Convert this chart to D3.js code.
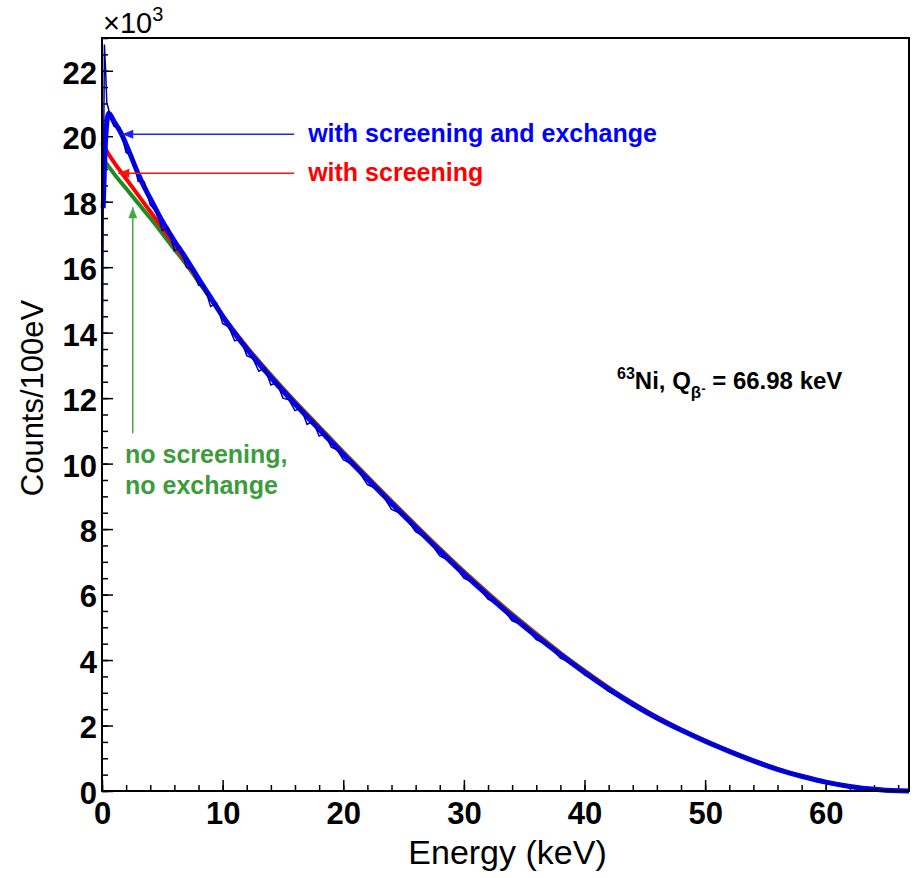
<!DOCTYPE html>
<html>
<head>
<meta charset="utf-8">
<script src="https://cdn.jsdelivr.net/npm/d3@7"></script>
<style>
body { margin: 0; background: #fff; }
svg { font-family: "Liberation Sans", Arial, sans-serif; }
text { white-space: pre; }
</style>
</head>
<body>
<div id="chart-area"></div>
<script>
// energies in keV, counts in units of 10^3 per 100 eV

// no screening, no exchange
var greenE = [0.3, 1, 2, 3, 4, 5, 6, 7, 8, 9, 10, 12, 14, 16, 18, 20, 22, 24, 26, 28, 30, 32, 34, 36, 38, 40, 42, 44, 46, 48, 50, 52, 54, 56, 58, 60, 62, 64, 66, 66.9];
var greenV = [19.2, 18.85, 18.4, 17.95, 17.5, 17.03, 16.55, 16.07, 15.56, 15.04, 14.52, 13.57, 12.71, 11.9, 11.13, 10.36, 9.61, 8.86, 8.13, 7.41, 6.71, 6.05, 5.41, 4.81, 4.22, 3.68, 3.16, 2.69, 2.26, 1.88, 1.54, 1.22, 0.93, 0.67, 0.45, 0.27, 0.14, 0.05, 0.006, 0];

// with screening
var redE = [0, 0.5, 1, 2, 3, 4, 5, 6, 7, 8, 9, 10, 12, 14, 16, 18, 20, 22, 24, 26, 28, 30, 32, 34, 36, 38, 40, 42, 44, 46, 48, 50, 52, 54, 56, 58, 60, 62, 64, 66, 66.9];
var redV = [19.8, 19.48, 19.2, 18.7, 18.2, 17.7, 17.2, 16.68, 16.15, 15.6, 15.05, 14.52, 13.55, 12.68, 11.87, 11.1, 10.33, 9.58, 8.83, 8.1, 7.38, 6.68, 6.02, 5.38, 4.78, 4.2, 3.66, 3.15, 2.68, 2.26, 1.88, 1.54, 1.22, 0.93, 0.67, 0.45, 0.27, 0.14, 0.05, 0.006, 0];

// with screening and exchange
var blueE = [0.1, 0.3, 0.55, 1, 1.6, 2, 2.5, 3, 3.5, 4, 5, 6, 7, 8, 9, 10, 12, 14, 16, 18, 20, 22, 24, 26, 28, 30, 32, 34, 36, 38, 40, 42, 44, 46, 48, 50, 52, 54, 56, 58, 60, 62, 64, 66, 66.9];
var blueV = [17.8, 19.9, 20.7, 20.45, 20.08, 19.75, 19.3, 18.85, 18.45, 18.1, 17.4, 16.8, 16.25, 15.65, 15.08, 14.5, 13.5, 12.63, 11.82, 11.05, 10.28, 9.53, 8.78, 8.05, 7.33, 6.63, 5.97, 5.33, 4.73, 4.16, 3.62, 3.11, 2.65, 2.23, 1.86, 1.52, 1.21, 0.92, 0.66, 0.45, 0.27, 0.14, 0.05, 0.006, 0];

// measured histogram
var histE = [0, 0.1, 0.2, 0.3, 0.4, 0.5, 0.7, 1, 1.5, 2, 2.5, 3, 3.5, 4, 4.5, 5, 5.5, 6, 6.5, 7, 7.5, 8, 8.5, 9, 9.5, 10, 10.5, 11, 11.5, 12, 12.5, 13, 13.5, 14, 14.5, 15, 15.5, 16, 16.5, 17, 17.5, 18, 18.5, 19, 19.5, 20, 21, 22, 23, 24, 25, 26, 27, 28, 29, 30, 31, 32, 33, 34, 35, 36, 37, 38, 39, 40, 41, 42, 43, 44, 45, 46, 47, 48, 49, 50, 52, 54, 56, 58, 60, 62, 64, 66, 66.9];
var histV = [10.2, 17.6, 22.8, 22.0, 21.0, 20.9, 20.55, 20.3, 20.25, 19.5, 19.42, 18.62, 18.6, 17.9, 17.7, 17.12, 17.2, 16.5, 16.62, 16.0, 15.92, 15.45, 15.42, 14.8, 14.9, 14.28, 14.18, 13.75, 13.82, 13.3, 13.22, 12.82, 12.92, 12.4, 12.48, 12.0, 11.95, 11.62, 11.7, 11.2, 11.3, 10.84, 10.92, 10.5, 10.42, 10.12, 9.93, 9.36, 9.2, 8.6, 8.44, 7.92, 7.7, 7.18, 7.0, 6.5, 6.33, 5.86, 5.67, 5.2, 5.05, 4.62, 4.46, 4.06, 3.9, 3.55, 3.38, 3.04, 2.88, 2.6, 2.44, 2.19, 2.04, 1.83, 1.69, 1.5, 1.2, 0.91, 0.65, 0.44, 0.26, 0.13, 0.05, 0.005, 0];

var xMajor = [0, 10, 20, 30, 40, 50, 60];
var xMinor = [0, 2, 4, 6, 8, 10, 12, 14, 16, 18, 20, 22, 24, 26, 28, 30, 32, 34, 36, 38, 40, 42, 44, 46, 48, 50, 52, 54, 56, 58, 60, 62, 64, 66];
var yMajor = [0, 2, 4, 6, 8, 10, 12, 14, 16, 18, 20, 22];

var svg_width = 915;
var svg_height = 878;
var margin = {top: 38, right: 6, bottom: 87, left: 102};

var x = d3.scaleLinear()
    .domain([0, 66.9])
    .range([margin.left, svg_width - margin.right]);

var y = d3.scaleLinear()
    .domain([0, 23])
    .range([svg_height - margin.bottom, margin.top]);

var svg = d3.select("#chart-area").append("svg")
    .attr("width", svg_width)
    .attr("height", svg_height);

// axes (ticks point inward, ROOT style)
var xAxis = svg.append("g")
    .attr("transform", "translate(0," + y(0) + ")")
    .call(d3.axisBottom(x).tickValues(xMajor).tickSize(-11).tickPadding(11).tickFormat(d3.format("d")));
xAxis.append("g")
    .call(d3.axisBottom(x).tickValues(xMinor).tickSize(-6).tickFormat(""));

var minorY = d3.range(0, 23.01, 0.5);
var yAxis = svg.append("g")
    .attr("transform", "translate(" + x(0) + ",0)")
    .call(d3.axisLeft(y).tickValues(yMajor).tickSize(-11).tickPadding(5).tickFormat(d3.format("d")));
yAxis.append("g")
    .call(d3.axisLeft(y).tickValues(minorY).tickSize(-6).tickFormat(""));

svg.selectAll(".domain").remove();
svg.selectAll(".tick line").attr("stroke", "#000").attr("stroke-width", 1.5);
xAxis.selectAll("text")
    .attr("font-size", 31).attr("font-weight", "bold").attr("fill", "#000")
    .attr("font-family", "Liberation Sans, Arial, sans-serif");
yAxis.selectAll("text")
    .attr("font-size", 31).attr("font-weight", "bold").attr("fill", "#000")
    .attr("dy", "0.4em")
    .attr("font-family", "Liberation Sans, Arial, sans-serif");

// curves
var line = (E, V, curve) => d3.line()
    .x((d, i) => x(E[i]))
    .y((d) => y(d))
    .curve(curve)(V);

svg.append("path").attr("d", line(greenE, greenV, d3.curveMonotoneX))
    .attr("fill", "none").attr("stroke", "#1f8c1f").attr("stroke-width", 4);
svg.append("path").attr("d", line(redE, redV, d3.curveMonotoneX))
    .attr("fill", "none").attr("stroke", "#ff0000").attr("stroke-width", 4);
svg.append("path").attr("d", line(blueE, blueV, d3.curveMonotoneX))
    .attr("fill", "none").attr("stroke", "#0000ff").attr("stroke-width", 5);
svg.append("path").attr("d", line(histE, histV, d3.curveLinear))
    .attr("fill", "none").attr("stroke", "#00008c").attr("stroke-width", 1.5);

// frame
svg.append("rect")
    .attr("x", x(0)).attr("y", y(23))
    .attr("width", x(66.9) - x(0)).attr("height", y(0) - y(23))
    .attr("fill", "none").attr("stroke", "#000").attr("stroke-width", 2);

// axis titles
svg.append("text")
    .attr("x", (x(0) + x(66.9)) / 2 + 2).attr("y", 864)
    .attr("text-anchor", "middle").attr("font-size", 34)
    .text("Energy (keV)");

svg.append("text")
    .attr("transform", "translate(43,398) rotate(-90)")
    .attr("text-anchor", "middle").attr("font-size", 31)
    .text("Counts/100eV");

var mult = svg.append("text").attr("x", 103).attr("y", 33).attr("font-size", 29);
mult.append("tspan").text("\u00d710");
mult.append("tspan").attr("font-size", 20).attr("dy", -12).text("3");

// arrows
function arrow(x1, y1, x2, y2, color, w) {
    svg.append("line")
        .attr("x1", x1).attr("y1", y1).attr("x2", x2).attr("y2", y2)
        .attr("stroke", color).attr("stroke-width", w);
    var a = Math.atan2(y2 - y1, x2 - x1);
    var L = 11, H = 4.5;
    var bx = x2 - L * Math.cos(a), by = y2 - L * Math.sin(a);
    var pts = [
        [x2, y2],
        [bx + H * Math.sin(a), by - H * Math.cos(a)],
        [bx - H * Math.sin(a), by + H * Math.cos(a)]
    ];
    svg.append("polygon").attr("points", pts.map((p) => p.join(",")).join(" "))
        .attr("fill", color);
}

arrow(x(15.93), y(20.06), x(1.68), y(20.06), "#2020ff", 1.5);
arrow(x(15.93), y(18.87), x(1.35), y(18.87), "#ff1010", 1.5);
arrow(x(2.55), y(10.93), x(2.55), y(17.83), "#44a844", 1.5);

// labels
svg.append("text").attr("x", x(15.93) + 14).attr("y", y(20.06) + 8)
    .attr("font-size", 25).attr("font-weight", "bold").attr("fill", "#0000ff")
    .text("with screening and exchange");
svg.append("text").attr("x", x(15.93) + 14).attr("y", y(18.87) + 8)
    .attr("font-size", 25).attr("font-weight", "bold").attr("fill", "#ff0000")
    .text("with screening");

var g = svg.append("text").attr("font-size", 25).attr("font-weight", "bold").attr("fill", "#3c9c3c");
g.append("tspan").attr("x", 125).attr("y", 463).text("no screening,");
g.append("tspan").attr("x", 125).attr("y", 494).text("no exchange");

var ni = svg.append("text").attr("x", 617).attr("y", 389)
    .attr("font-size", 24).attr("font-weight", "bold").attr("fill", "#000");
ni.append("tspan").attr("font-size", 16).attr("dy", -10).text("63");
ni.append("tspan").attr("dy", 10).text("Ni, Q");
ni.append("tspan").attr("font-size", 17).attr("dy", 9).text("\u03b2");
ni.append("tspan").attr("font-size", 13).attr("dy", -5).text("-");
ni.append("tspan").attr("dy", -4).text(" = 66.98 keV");
</script>
</body>
</html>
